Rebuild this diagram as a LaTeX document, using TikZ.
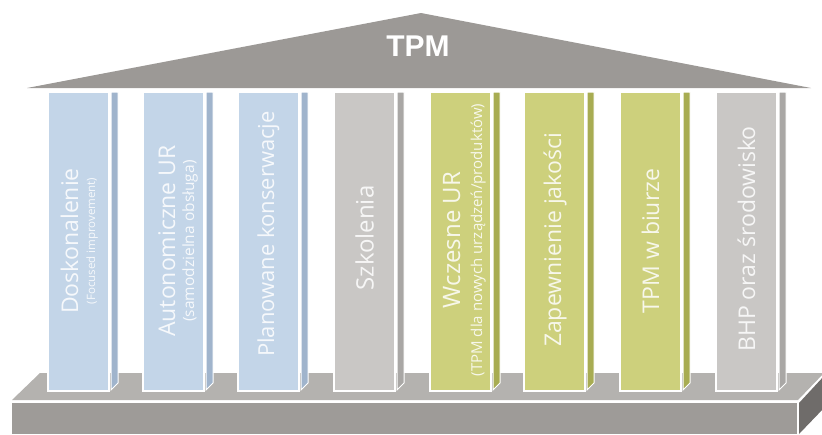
\documentclass[tikz,border=0pt]{standalone}
\usepackage{fontspec}
\setmainfont{Open Sans}
\newfontfamily\tpmfont{Liberation Sans}
\definecolor{roofc}{HTML}{9C9996}
\definecolor{basetop}{HTML}{B4B2AF}
\definecolor{basefront}{HTML}{9E9B98}
\definecolor{baseside}{HTML}{6F6C6A}
\definecolor{bluef}{HTML}{C3D5E8}
\definecolor{blues}{HTML}{A0B4CC}
\definecolor{grayf}{HTML}{C9C7C5}
\definecolor{grays}{HTML}{A9A7A5}
\definecolor{greenf}{HTML}{CDD07C}
\definecolor{greens}{HTML}{A8AC52}
\tikzset{
  colfront/.style={draw=white, line width=1.5pt},
  colside/.style={draw=white, line width=1pt},
  coltext/.style={text=white, text opacity=0.85, inner sep=0pt, rotate=90},
  maintext/.style={coltext, font=\fontsize{23}{25}\selectfont},
}
\begin{document}
\begin{tikzpicture}[x=1pt,y=-1pt]
\useasboundingbox (0,0) rectangle (822,434);
% base
\fill[basetop] (12,400) -- (40,373) -- (824,373) -- (798,400) -- cycle;
\fill[basefront] (12,403) rectangle (797,434);
\fill[baseside] (799,403) -- (824,376) -- (824,408) -- (799,434) -- cycle;
% roof
\fill[roofc] (27,88) -- (421,13) -- (811,88) -- cycle;
\node[text=white, font=\tpmfont\bfseries\fontsize{30}{30}\selectfont, inner sep=0pt] (tpm) at (418,46) {TPM};
% columns
\foreach \L/\f/\s in {48/bluef/blues, 143/bluef/blues, 238/bluef/blues, 334/grayf/grays, 430/greenf/greens, 524/greenf/greens, 620/greenf/greens, 716/grayf/grays}{
  \filldraw[colside, fill=\s] (\L+63,92) -- (\L+70,92) -- (\L+70,383) -- (\L+63,390) -- cycle;
  \filldraw[colfront, fill=\f] (\L,92) rectangle (\L+61,391);
}
% texts
\node[maintext, anchor=base] (t1) at (78,241) {Doskonalenie};
\node[coltext, anchor=base, font=\fontsize{11.5}{13}\selectfont] (s1) at (95,241) {(Focused improvement)};
\node[maintext, anchor=base] (t2) at (175,241) {Autonomiczne UR};
\node[coltext, anchor=base, font=\fontsize{15.5}{17}\selectfont] (s2) at (194,241) {(samodzielna obsługa)};
\node[maintext, font=\fontsize{22}{24}\selectfont] (t3) at (268.5,234) {Planowane konserwacje};
\node[maintext, font=\fontsize{24}{26}\selectfont] (t4) at (364.5,238) {Szkolenia};
\node[maintext, anchor=base, font=\fontsize{24}{26}\selectfont] (t5) at (460,240) {Wczesne UR};
\node[coltext, anchor=base, font=\fontsize{15}{17}\selectfont] (s5) at (482,240) {(TPM dla nowych urządzeń/produktów)};
\node[maintext] (t6) at (555,240) {Zapewnienie jakości};
\node[maintext] (t7) at (650.5,241) {TPM w biurze};
\node[maintext] (t8) at (746.5,239) {BHP oraz środowisko};
\end{tikzpicture}
\end{document}
